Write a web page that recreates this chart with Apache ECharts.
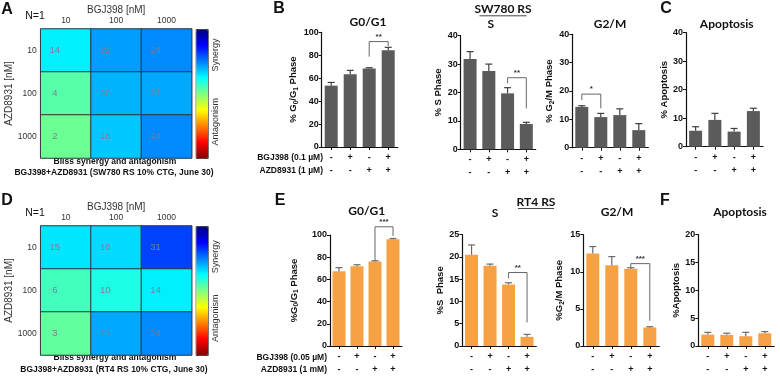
<!DOCTYPE html>
<html>
<head>
<meta charset="utf-8">
<script src="https://cdn.jsdelivr.net/npm/echarts@6/dist/echarts.min.js"></script>
<style>
  html, body { margin: 0; padding: 0; background: #fff; }
  #main { width: 780px; height: 376px; }
</style>
</head>
<body>
<div id="main"></div>
<script>
// heatmap data (Bliss scores)
var heatCols = ['10', '100', '1000'];
var heatRows = ['10', '100', '1000'];
var blissSW = [[14, 22, 24], [4, 20, 21], [2, 18, 24]];
var blissRT = [[15, 16, 31], [6, 10, 14], [3, 21, 24]];

// treatment rows under the bars
var bgj = ['-', '+', '-', '+'];
var azd = ['-', '-', '+', '+'];

// SW780 RS
var g0g1SW = [53.5, 63.4, 68.4, 84.3];
var g0g1SWErr = [2.8, 3.4, 0.7, 2.6];
var sSW = [31.8, 27.6, 19.7, 8.9];
var sSWErr = [2.6, 2.4, 2.0, 0.6];
var g2mSW = [14.4, 10.8, 11.5, 6.2];
var g2mSWErr = [0.4, 1.3, 2.2, 2.3];
var apoSW = [5.6, 9.4, 5.3, 12.5];
var apoSWErr = [1.4, 2.3, 1.1, 1.0];

// RT4 RS
var g0g1RT = [67.4, 71.8, 76.2, 96.2];
var g0g1RTErr = [3.2, 1.4, 0.6, 0.6];
var sRT = [20.5, 18.0, 13.8, 2.05];
var sRTErr = [2.2, 0.4, 0.4, 0.55];
var g2mRT = [12.45, 10.87, 10.4, 2.5];
var g2mRTErr = [0.95, 1.18, 0.15, 0.1];
var apoRT = [2.05, 2.0, 1.76, 2.29];
var apoRTErr = [0.4, 0.3, 0.7, 0.3];

// significance brackets: [barA, barB, leftFoot, top, rightFoot]
var g0g1SWSig = [2, 3, 78.8, 91.9, 88.1];
var sSWSig = [2, 3, 23.2, 25.2, 14.4];
var g2mSWSig = [0, 1, 16.8, 18.9, 13.9];
var g0g1RTSig = [2, 3, 77, 107.4, 99.1];
var sRTSig = [2, 3, 15.2, 16.5, 5.3];
var g2mRTSig = [2, 3, 10.6, 11.1, 3.4];

var GRAY = '#5b5b5b';
var ORANGE = '#f7a145';
var JET = ['#800000', '#ff0000', '#ff8000', '#ffff00', '#80ff80', '#00ffff', '#0080ff', '#0000ff', '#000080'];
var FONT = 'Liberation Sans';

var chart = echarts.init(document.getElementById('main'));

var grids = [], xAxes = [], yAxes = [], series = [], visualMaps = [];

function addHeat(cells, top) {
  var idx = grids.length;
  grids.push({ left: 40.7, top: top, width: 151, height: 129 });
  xAxes.push({
    gridIndex: idx, type: 'category', data: heatCols, position: 'top',
    axisLine: { show: false }, axisTick: { show: false },
    axisLabel: { fontSize: 8.5, color: '#333', margin: 4 },
    name: 'BGJ398 [nM]', nameLocation: 'middle', nameGap: 14,
    nameTextStyle: { fontSize: 10, color: '#333' }
  });
  yAxes.push({
    gridIndex: idx, type: 'category', data: heatRows, inverse: true,
    axisLine: { show: false }, axisTick: { show: false },
    axisLabel: { fontSize: 8.5, color: '#333', margin: 4 },
    name: 'AZD8931 [nM]', nameLocation: 'middle', nameGap: 22,
    nameTextStyle: { fontSize: 10, color: '#333' }
  });
  var data = [];
  cells.forEach(function (row, r) {
    row.forEach(function (v, c) { data.push([c, r, v]); });
  });
  var sIdx = series.length;
  series.push({
    type: 'heatmap', xAxisIndex: idx, yAxisIndex: idx, data: data,
    itemStyle: { borderColor: '#2b3440', borderWidth: 1 },
    label: { show: true, color: '#7a7f96', fontSize: 9.5, offset: [-11, 0] },
    emphasis: { disabled: true }
  });
  visualMaps.push({
    type: 'continuous', seriesIndex: sIdx, min: -50, max: 50,
    calculable: false, inRange: { color: JET },
    left: 195.7, top: top, itemWidth: 12, itemHeight: 129, padding: 0,
    borderColor: '#333', borderWidth: 1
  });
}

function addBars(p) {
  var idx = grids.length;
  grids.push(p.grid);
  xAxes.push({
    gridIndex: idx, type: 'category',
    data: bgj.map(function (b, i) { return b + '\n' + azd[i]; }),
    axisLine: { lineStyle: { color: '#111', width: 1.2 } },
    axisTick: { show: true, alignWithLabel: true, length: 3, lineStyle: { color: '#111' } },
    axisLabel: { fontSize: 9, fontWeight: 'bold', color: '#111', lineHeight: 13, margin: 4, interval: 0 }
  });
  yAxes.push({
    gridIndex: idx, type: 'value', min: 0, max: p.max, interval: p.interval,
    axisLine: { show: true, lineStyle: { color: '#111', width: 1.2 } },
    axisTick: { show: true, length: 3, lineStyle: { color: '#111' } },
    splitLine: { show: false },
    axisLabel: { fontSize: 9, fontWeight: 'bold', color: '#111', margin: 3 },
    name: p.name, nameLocation: 'middle', nameGap: p.nameGap,
    nameTextStyle: {
      fontSize: 9.5, fontWeight: 'bold', color: '#111',
      rich: { s: { fontSize: 6.5, fontWeight: 'bold', color: '#111', verticalAlign: 'bottom', padding: [5, 0, 0, 0] } }
    }
  });
  series.push({
    type: 'bar', xAxisIndex: idx, yAxisIndex: idx, data: p.vals,
    barWidth: 13, itemStyle: { color: p.color }, silent: true
  });
  var errColor = p.color === GRAY ? '#3f3f3f' : '#6b6b6b';
  series.push({
    type: 'custom', xAxisIndex: idx, yAxisIndex: idx, silent: true, z: 3,
    encode: { x: 0, y: 1 },
    data: p.vals.map(function (v, i) { return [i, v, p.errs[i]]; }),
    renderItem: function (params, api) {
      var x = api.value(0), v = api.value(1), e = api.value(2);
      var p0 = api.coord([x, v]), p1 = api.coord([x, v + e]);
      var st = { stroke: errColor, lineWidth: 1.2 };
      return {
        type: 'group', children: [
          { type: 'line', shape: { x1: p0[0], y1: p0[1], x2: p1[0], y2: p1[1] }, style: st },
          { type: 'line', shape: { x1: p1[0] - 3.5, y1: p1[1], x2: p1[0] + 3.5, y2: p1[1] }, style: st }
        ]
      };
    }
  });
  if (p.sig) {
    series.push({
      type: 'custom', xAxisIndex: idx, yAxisIndex: idx, silent: true, z: 4,
      encode: { x: [0, 1], y: [2, 3, 4] },
      data: [p.sig],
      renderItem: function (params, api) {
        var a = api.value(0), b = api.value(1);
        var pA = api.coord([a, api.value(2)]), pAt = api.coord([a, api.value(3)]);
        var pBt = api.coord([b, api.value(3)]), pB = api.coord([b, api.value(4)]);
        return {
          type: 'group', children: [
            { type: 'polyline', shape: { points: [pA, pAt, pBt, pB] }, style: { stroke: '#555', lineWidth: 0.9, fill: null } },
            { type: 'text', x: (pAt[0] + pBt[0]) / 2, y: pAt[1] - 1,
              style: { text: p.sigLabel, font: 'bold 8px ' + FONT, fill: '#333',
                       align: 'center', textAlign: 'center', verticalAlign: 'bottom', textVerticalAlign: 'bottom' } }
          ]
        };
      }
    });
  }
}

addHeat(blissSW, 29);
addHeat(blissRT, 226);

addBars({ grid: { left: 321.7, top: 32.3, width: 76, height: 114.7 }, max: 100, interval: 20, vals: g0g1SW, errs: g0g1SWErr, color: GRAY,
  name: '% G{s|0}/G{s|1} Phase', nameGap: 22, sig: g0g1SWSig, sigLabel: '**' });
addBars({ grid: { left: 460.7, top: 35.7, width: 75, height: 113.6 }, max: 40, interval: 10, vals: sSW, errs: sSWErr, color: GRAY,
  name: '% S Phase', nameGap: 17, sig: sSWSig, sigLabel: '**' });
addBars({ grid: { left: 572.3, top: 34.3, width: 76, height: 113.4 }, max: 40, interval: 10, vals: g2mSW, errs: g2mSWErr, color: GRAY,
  name: '% G{s|2}/M Phase', nameGap: 17, sig: g2mSWSig, sigLabel: '*' });
addBars({ grid: { left: 686, top: 32.7, width: 77, height: 114 }, max: 40, interval: 10, vals: apoSW, errs: apoSWErr, color: GRAY,
  name: '% Apoptosis', nameGap: 16 });

addBars({ grid: { left: 330, top: 235, width: 72, height: 113.3 }, max: 100, interval: 20, vals: g0g1RT, errs: g0g1RTErr, color: ORANGE,
  name: '%G{s|0}/G{s|1} Phase', nameGap: 30, sig: g0g1RTSig, sigLabel: '***' });
addBars({ grid: { left: 462.3, top: 234.7, width: 74, height: 113.6 }, max: 25, interval: 5, vals: sRT, errs: sRTErr, color: ORANGE,
  name: '%S  Phase', nameGap: 17, sig: sRTSig, sigLabel: '**' });
addBars({ grid: { left: 583.3, top: 234.7, width: 76, height: 113.6 }, max: 15, interval: 5, vals: g2mRT, errs: g2mRTErr, color: ORANGE,
  name: '%G{s|2}/M Phase', nameGap: 18, sig: g2mRTSig, sigLabel: '***' });
addBars({ grid: { left: 698.3, top: 234.7, width: 76, height: 113.6 }, max: 20, interval: 5, vals: apoRT, errs: apoRTErr, color: ORANGE,
  name: '%Apoptosis', nameGap: 15 });

function txt(s, x, y, font, opts) {
  opts = opts || {};
  var al = opts.align || 'center';
  return {
    type: 'text', x: x, y: y, rotation: opts.rotation || 0, silent: true,
    style: { text: s, font: font, fill: opts.fill || '#111',
             align: al, textAlign: al, verticalAlign: 'middle', textVerticalAlign: 'middle' }
  };
}
function uline(x, y, w) {
  return { type: 'line', silent: true, shape: { x1: x - w / 2, y1: y, x2: x + w / 2, y2: y }, style: { stroke: '#333', lineWidth: 0.9 } };
}

var LETTER = 'bold 16px ' + FONT;
var TITLE = 'bold 12px Lato';
var ROWLBL = 'bold 8.5px ' + FONT;
var CAP = 'bold 8.5px ' + FONT;

var graphics = [
  txt('A', 7, 10, LETTER), txt('D', 7, 201, LETTER),
  txt('B', 279, 9, LETTER), txt('E', 280, 201, LETTER),
  txt('C', 666, 9, LETTER), txt('F', 665, 201, LETTER),

  txt('N=1', 35, 16, '10.5px ' + FONT), txt('N=1', 35, 212.7, '10.5px ' + FONT),
  txt('Bliss synergy and antagonism', 115, 162, CAP),
  txt('BGJ398+AZD8931 (SW780 RS 10% CTG, June 30)', 114, 173, CAP),
  txt('Bliss synergy and antagonism', 115, 357.5, CAP),
  txt('BGJ398+AZD8931 (RT4 RS 10% CTG, June 30)', 114, 369.5, CAP),
  txt('Synergy', 216, 55, '9px ' + FONT, { rotation: Math.PI / 2, fill: '#333' }),
  txt('Antagonism', 216, 121.7, '9px ' + FONT, { rotation: Math.PI / 2, fill: '#333' }),
  txt('Synergy', 216, 256.7, '9px ' + FONT, { rotation: Math.PI / 2, fill: '#333' }),
  txt('Antagonism', 216, 318.3, '9px ' + FONT, { rotation: Math.PI / 2, fill: '#333' }),

  txt('G0/G1', 368, 22, TITLE), txt('SW780 RS', 503, 9, TITLE), uline(503, 15.8, 47),
  txt('S', 490.7, 24.5, TITLE), txt('G2/M', 610, 24, TITLE), txt('Apoptosis', 726.7, 24, TITLE),
  txt('G0/G1', 366.7, 211, TITLE), txt('RT4 RS', 536, 201.7, TITLE), uline(536, 208.5, 36),
  txt('S', 495, 212.7, TITLE), txt('G2/M', 617, 212, TITLE), txt('Apoptosis', 740, 212, TITLE),

  txt('BGJ398 (0.1 \u00b5M)', 323, 158, ROWLBL, { align: 'right' }),
  txt('AZD8931 (1 \u00b5M)', 323, 171, ROWLBL, { align: 'right' }),
  txt('BGJ398 (0.05 \u00b5M)', 327, 357.7, ROWLBL, { align: 'right' }),
  txt('AZD8931 (1 mM)', 327, 369.5, ROWLBL, { align: 'right' })
];

chart.setOption({
  animation: false,
  backgroundColor: '#fff',
  textStyle: { fontFamily: FONT },
  grid: grids,
  xAxis: xAxes,
  yAxis: yAxes,
  visualMap: visualMaps,
  series: series,
  graphic: graphics
});
</script>
</body>
</html>
